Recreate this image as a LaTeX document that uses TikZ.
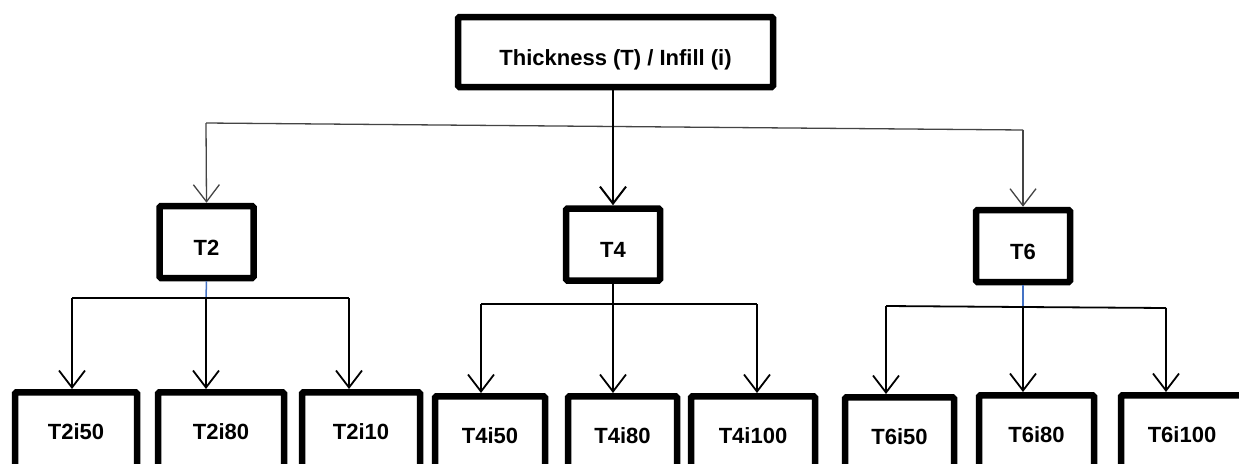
\documentclass[tikz,border=0pt]{standalone}
\usepackage{fontspec}
\setmainfont{Liberation Sans}
\usetikzlibrary{arrows.meta}
\definecolor{linkblue}{HTML}{4472C4}
\definecolor{thingray}{HTML}{444444}
\begin{document}
\begin{tikzpicture}[x=1pt,y=-1pt,
  box/.style={draw, line width=6.5pt, rounded corners=1.5pt, inner sep=0pt, fill=white,
    font=\fontsize{22}{25}\selectfont\bfseries},
  topbox/.style={box, minimum width=315pt, text height=48.5pt, text depth=21.5pt},
  midbox/.style={box, minimum width=94pt, text height=49pt, text depth=23pt},
  leaf/.style={box, anchor=north, minimum width=#1, text height=47pt, text depth=50pt},
  arr/.style={-{Straight Barb[length=17pt,width=26pt]}},
  thinline/.style={draw=thingray, line width=1.3pt},
  mainline/.style={draw=black, line width=2pt},
  branch/.style={draw=black, line width=1.8pt},
  blueline/.style={draw=linkblue, line width=1.5pt}
]
\useasboundingbox (0,0) rectangle (1239,463);
\fill[white] (0,0) rectangle (1239,463);
\clip (0,0) rectangle (1239,463);

% top and middle nodes
\node[topbox] (top) at (615.5,52) {Thickness (T) / Infill (i)};
\node[midbox] (T2) at (206.5,242) {T2};
\node[midbox] (T4) at (613,244.5) {T4};
\node[midbox] (T6) at (1023,246) {T6};

% leaves
\node[leaf=122pt] (T2i50) at (76,389) {T2i50};
\node[leaf=126pt] (T2i80) at (221,389) {T2i80};
\node[leaf=118pt] (T2i10) at (361,389) {T2i10};
\node[leaf=110pt] (T4i50) at (490,393) {T4i50};
\node[leaf=109pt] (T4i80) at (622.5,393) {T4i80};
\node[leaf=124pt] (T4i100) at (753,393) {T4i100};
\node[leaf=109pt] (T6i50) at (899.5,394) {T6i50};
\node[leaf=115pt] (T6i80) at (1036.5,392) {T6i80};
\node[leaf=122pt] (T6i100) at (1182,392) {T6i100};

% top level connectors
\coordinate (L) at (206,123);
\coordinate (R) at (1023,130);
\draw[thinline] (L) -- (R);
\draw[thinline, arr] (L) -- (T2.north);
\draw[thinline, arr] (R) -- (T6.north);
\draw[mainline, arr] (top.south -| T4.north) -- (T4.north);

% T2 group
\coordinate (j2) at (206,298);
\coordinate (a2) at (72,298);
\coordinate (c2) at (349,298);
\draw[blueline] (T2.south) -- (j2);
\draw[branch] (a2) -- (c2);
\draw[branch, arr] (a2) -- (a2 |- T2i50.north);
\draw[branch, arr] (j2) -- (j2 |- T2i80.north);
\draw[branch, arr] (c2) -- (c2 |- T2i10.north);

% T4 group
\coordinate (j4) at (613,304);
\coordinate (a4) at (481,304);
\coordinate (c4) at (757,304);
\draw[branch] (T4.south) -- (j4);
\draw[branch] (a4) -- (c4);
\draw[branch, arr] (a4) -- (a4 |- T4i50.north);
\draw[branch, arr] (j4) -- (j4 |- T4i80.north);
\draw[branch, arr] (c4) -- (c4 |- T4i100.north);

% T6 group
\coordinate (j6) at (1023,307);
\coordinate (a6) at (886,306);
\coordinate (c6) at (1166,308);
\draw[blueline] (T6.south) -- (j6);
\draw[branch] (a6) -- (j6) -- (c6);
\draw[branch, arr] (a6) -- (a6 |- T6i50.north);
\draw[branch, arr] (j6) -- (j6 |- T6i80.north);
\draw[branch, arr] (c6) -- (c6 |- T6i100.north);
\end{tikzpicture}
\end{document}
